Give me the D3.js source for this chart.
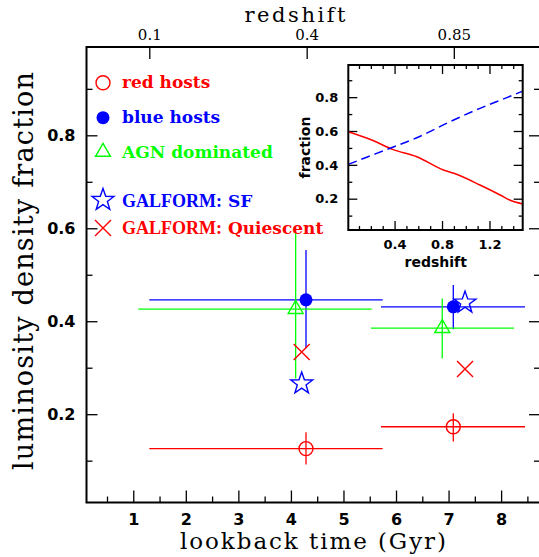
<!DOCTYPE html>
<html>
<head>
<meta charset="utf-8">
<script src="https://cdn.jsdelivr.net/npm/d3@7"></script>
<style>
  body { margin: 0; background: #fff; }
</style>
</head>
<body>
<div id="chart"></div>
<script>
// Luminosity density fraction vs lookback time, with GALFORM inset

// axis ticks
const lookbackMajor = [1, 2, 3, 4, 5, 6, 7, 8];
const lookbackMinor = [0.5, 1.5, 2.5, 3.5, 4.5, 5.5, 6.5, 7.5, 8.5];
const fractionMajor = [0.2, 0.4, 0.6, 0.8];
const fractionMinor = [0.1, 0.3, 0.5, 0.7, 0.9];
const redshiftLabels = ['0.1', '0.4', '0.85'];
const redshiftLookback = [1.305, 4.30, 7.10];

// observed bins (lookback time in Gyr, fraction)
const redHosts = [
    { t: 4.287, tLo: 1.305, tHi: 5.746, f: 0.126, fLo: 0.092, fHi: 0.161 },
    { t: 7.09, tLo: 5.714, tHi: 8.454, f: 0.173, fLo: 0.141, fHi: 0.202 }
];
const blueHosts = [
    { t: 4.287, tLo: 1.305, tHi: 5.746, f: 0.446, fLo: 0.342, fHi: 0.553 },
    { t: 7.09, tLo: 5.714, tHi: 8.454, f: 0.431, fLo: 0.383, fHi: 0.478 }
];
const agnDominated = [
    { t: 4.09, tLo: 1.096, tHi: 5.537, f: 0.426, fLo: 0.277, fHi: 0.592 },
    { t: 6.88, tLo: 5.524, tHi: 8.245, f: 0.385, fLo: 0.320, fHi: 0.449 }
];
// model predictions
const galformSF = [{ t: 4.205, f: 0.266 }, { t: 7.313, f: 0.440 }];
const galformQ = [{ t: 4.205, f: 0.334 }, { t: 7.313, f: 0.297 }];

// inset: fraction vs redshift
const insetRedZ = [0.01, 0.207, 0.389, 0.587, 0.811, 0.90, 1.12, 1.29, 1.37, 1.48];
const insetRedF = [0.596, 0.547, 0.490, 0.448, 0.370, 0.350, 0.281, 0.222, 0.192, 0.169];
const insetBlueZ = [0.01, 0.165, 0.362, 0.587, 0.868, 1.12, 1.346, 1.48];
const insetBlueF = [0.403, 0.445, 0.498, 0.560, 0.655, 0.734, 0.797, 0.836];
const insetZMajor = [0.4, 0.8, 1.2];
const insetZMinor = [0.1, 0.2, 0.3, 0.5, 0.6, 0.7, 0.9, 1.0, 1.1, 1.3, 1.4];

const RED = '#ff0000', BLUE = '#0000ff', GREEN = '#00ff00';

const svg = d3.select('#chart').append('svg')
    .attr('width', 539)
    .attr('height', 557);

const frame = { left: 86.5, right: 540, top: 47, bottom: 502.5 };

const x = d3.scaleLinear().domain([0.11, 8.74]).range([frame.left, frame.right]);
const y = d3.scaleLinear().domain([0.01, 0.99]).range([frame.bottom, frame.top]);

function cleanAxis(g) {
    g.select('.domain').remove();
    g.selectAll('.tick line').attr('stroke', '#000').attr('stroke-width', 1.3);
}

// bottom axis
svg.append('g')
    .attr('transform', `translate(0,${frame.bottom})`)
    .call(d3.axisBottom(x).tickValues(lookbackMajor).tickSizeInner(-12).tickSizeOuter(0).tickPadding(11))
    .call(cleanAxis)
    .call(g => g.selectAll('text')
        .style('font-family', 'DejaVu Sans').style('font-weight', 'bold').style('font-size', '16px'));
svg.append('g')
    .attr('transform', `translate(0,${frame.bottom})`)
    .call(d3.axisBottom(x).tickValues(lookbackMinor).tickSizeInner(-6).tickSizeOuter(0).tickFormat(''))
    .call(cleanAxis);

// left axis
svg.append('g')
    .attr('transform', `translate(${frame.left},0)`)
    .call(d3.axisLeft(y).tickValues(fractionMajor).tickSizeInner(-11).tickSizeOuter(0)
        .tickPadding(11).tickFormat(d3.format('.1f')))
    .call(cleanAxis)
    .call(g => g.selectAll('text')
        .style('font-family', 'DejaVu Sans').style('font-weight', 'bold').style('font-size', '16px'));
svg.append('g')
    .attr('transform', `translate(${frame.left},0)`)
    .call(d3.axisLeft(y).tickValues(fractionMinor).tickSizeInner(-6).tickSizeOuter(0).tickFormat(''))
    .call(cleanAxis);

// right axis
svg.append('g')
    .attr('transform', `translate(${frame.right},0)`)
    .call(d3.axisRight(y).tickValues(fractionMajor).tickSizeInner(-11).tickSizeOuter(0).tickFormat(''))
    .call(cleanAxis);
svg.append('g')
    .attr('transform', `translate(${frame.right},0)`)
    .call(d3.axisRight(y).tickValues(fractionMinor).tickSizeInner(-6).tickSizeOuter(0).tickFormat(''))
    .call(cleanAxis);

// top axis: redshift
svg.append('g')
    .attr('transform', `translate(0,${frame.top})`)
    .call(d3.axisTop(x).tickValues(redshiftLookback).tickSizeInner(-12).tickSizeOuter(0)
        .tickPadding(7).tickFormat((d, i) => redshiftLabels[i]))
    .call(cleanAxis)
    .call(g => g.selectAll('text')
        .style('font-family', 'DejaVu Serif').style('font-size', '15px'));

svg.append('rect')
    .attr('x', frame.left).attr('y', frame.top)
    .attr('width', frame.right - frame.left).attr('height', frame.bottom - frame.top)
    .attr('fill', 'none').attr('stroke', '#000').attr('stroke-width', 2);

// axis titles
svg.append('text')
    .attr('x', 313).attr('y', 549)
    .attr('text-anchor', 'middle')
    .attr('textLength', 266)
    .style('font-family', 'DejaVu Serif').style('font-size', '23px')
    .text('lookback time (Gyr)');

svg.append('text')
    .attr('transform', 'translate(33,271) rotate(-90)')
    .attr('text-anchor', 'middle')
    .attr('textLength', 398)
    .style('font-family', 'DejaVu Serif').style('font-size', '27px')
    .text('luminosity density fraction');

svg.append('text')
    .attr('x', 295).attr('y', 22)
    .attr('text-anchor', 'middle')
    .attr('textLength', 101)
    .style('font-family', 'DejaVu Serif').style('font-size', '21px')
    .text('redshift');

// error bars
function drawErrors(data, color) {
    const g = svg.append('g').attr('stroke', color).attr('stroke-width', 1.3);
    g.selectAll('.h').data(data).enter().append('line')
        .attr('x1', d => x(d.tLo)).attr('x2', d => x(d.tHi))
        .attr('y1', d => y(d.f)).attr('y2', d => y(d.f));
    g.selectAll('.v').data(data).enter().append('line')
        .attr('x1', d => x(d.t)).attr('x2', d => x(d.t))
        .attr('y1', d => y(d.fLo)).attr('y2', d => y(d.fHi));
}
drawErrors(blueHosts, BLUE);
drawErrors(agnDominated, GREEN);
drawErrors(redHosts, RED);

// marker shapes
function starPath(r) {
    const pts = [];
    for (let i = 0; i < 10; i++) {
        const rr = i % 2 === 0 ? r : r * 0.4;
        const a = -Math.PI / 2 + i * Math.PI / 5;
        pts.push([rr * Math.cos(a), rr * Math.sin(a)]);
    }
    return 'M' + pts.map(p => p.join(',')).join('L') + 'Z';
}
const markers = {
    openCircle: g => g.append('circle').attr('r', 7).attr('fill', 'none').attr('stroke', RED).attr('stroke-width', 1.4),
    filledCircle: g => g.append('circle').attr('r', 6.5).attr('fill', BLUE),
    triangle: g => g.append('path').attr('d', d3.symbol(d3.symbolTriangle, 97)()).attr('fill', 'none')
        .attr('stroke', GREEN).attr('stroke-width', 1.4),
    star: g => g.append('path').attr('d', starPath(11.5)).attr('fill', 'none')
        .attr('stroke', BLUE).attr('stroke-width', 1.4),
    cross: g => g.append('path').attr('d', 'M-8,-8L8,8M-8,8L8,-8').attr('fill', 'none')
        .attr('stroke', RED).attr('stroke-width', 1.4)
};

function drawPoints(data, marker) {
    svg.append('g').selectAll('g').data(data).enter().append('g')
        .attr('transform', d => `translate(${x(d.t)},${y(d.f)})`)
        .each(function() { marker(d3.select(this)); });
}
drawPoints(agnDominated, markers.triangle);
drawPoints(blueHosts, markers.filledCircle);
drawPoints(redHosts, markers.openCircle);
drawPoints(galformSF, markers.star);
drawPoints(galformQ, markers.cross);

// legend
const legendItems = [
    { label: 'red hosts', color: RED, marker: markers.openCircle, cy: 82.7, base: 88 },
    { label: 'blue hosts', color: BLUE, marker: markers.filledCircle, cy: 117.7, base: 123 },
    { label: 'AGN dominated', color: GREEN, marker: markers.triangle, cy: 152, base: 158.3 },
    { prefix: 'GALFORM:', label: ' SF', color: BLUE, marker: markers.star, cy: 200, base: 206.7 },
    { prefix: 'GALFORM:', label: ' Quiescent', color: RED, marker: markers.cross, cy: 228, base: 233.5 }
];
legendItems.forEach(item => {
    const g = svg.append('g').attr('transform', `translate(103,${item.cy})`);
    item.marker(g);
    const t = svg.append('text')
        .attr('x', 122).attr('y', item.base)
        .attr('fill', item.color)
        .style('font-family', 'DejaVu Serif').style('font-weight', 'bold').style('font-size', '17px');
    if (item.prefix) {
        t.append('tspan').style('font-family', 'Liberation Serif').style('font-size', '18px').text(item.prefix);
    }
    t.append('tspan').attr('xml:space', 'preserve').text(item.label);
});

// inset
const inset = { left: 348.3, right: 522.7, top: 65, bottom: 230 };
const xi = d3.scaleLinear().domain([0.01, 1.48]).range([inset.left, inset.right]);
const yi = d3.scaleLinear().domain([0.015, 0.99]).range([inset.bottom, inset.top]);

svg.append('rect')
    .attr('x', inset.left).attr('y', inset.top)
    .attr('width', inset.right - inset.left).attr('height', inset.bottom - inset.top)
    .attr('fill', '#fff');

const insetFont = g => g.selectAll('text')
    .style('font-family', 'DejaVu Sans').style('font-weight', 'bold').style('font-size', '13px');

svg.append('g').attr('transform', `translate(0,${inset.bottom})`)
    .call(d3.axisBottom(xi).tickValues(insetZMajor).tickSizeInner(-9).tickSizeOuter(0)
        .tickPadding(10).tickFormat(d3.format('.1f')))
    .call(cleanAxis).call(insetFont);
svg.append('g').attr('transform', `translate(0,${inset.bottom})`)
    .call(d3.axisBottom(xi).tickValues(insetZMinor).tickSizeInner(-4).tickSizeOuter(0).tickFormat(''))
    .call(cleanAxis);
svg.append('g').attr('transform', `translate(0,${inset.top})`)
    .call(d3.axisTop(xi).tickValues(insetZMajor).tickSizeInner(-9).tickSizeOuter(0).tickFormat(''))
    .call(cleanAxis);
svg.append('g').attr('transform', `translate(0,${inset.top})`)
    .call(d3.axisTop(xi).tickValues(insetZMinor).tickSizeInner(-4).tickSizeOuter(0).tickFormat(''))
    .call(cleanAxis);
svg.append('g').attr('transform', `translate(${inset.left},0)`)
    .call(d3.axisLeft(yi).tickValues(fractionMajor).tickSizeInner(-9).tickSizeOuter(0)
        .tickPadding(10).tickFormat(d3.format('.1f')))
    .call(cleanAxis).call(insetFont);
svg.append('g').attr('transform', `translate(${inset.left},0)`)
    .call(d3.axisLeft(yi).tickValues(fractionMinor).tickSizeInner(-4).tickSizeOuter(0).tickFormat(''))
    .call(cleanAxis);
svg.append('g').attr('transform', `translate(${inset.right},0)`)
    .call(d3.axisRight(yi).tickValues(fractionMajor).tickSizeInner(-9).tickSizeOuter(0).tickFormat(''))
    .call(cleanAxis);
svg.append('g').attr('transform', `translate(${inset.right},0)`)
    .call(d3.axisRight(yi).tickValues(fractionMinor).tickSizeInner(-4).tickSizeOuter(0).tickFormat(''))
    .call(cleanAxis);

const line = d3.line().x(d => xi(d[0])).y(d => yi(d[1])).curve(d3.curveMonotoneX);
svg.append('path')
    .attr('d', line(d3.zip(insetRedZ, insetRedF)))
    .attr('fill', 'none').attr('stroke', RED).attr('stroke-width', 1.5);
svg.append('path')
    .attr('d', line(d3.zip(insetBlueZ, insetBlueF)))
    .attr('fill', 'none').attr('stroke', BLUE).attr('stroke-width', 1.5)
    .attr('stroke-dasharray', '9,5');

svg.append('rect')
    .attr('x', inset.left).attr('y', inset.top)
    .attr('width', inset.right - inset.left).attr('height', inset.bottom - inset.top)
    .attr('fill', 'none').attr('stroke', '#000').attr('stroke-width', 2);

svg.append('text')
    .attr('x', 435.7).attr('y', 267.3)
    .attr('text-anchor', 'middle')
    .style('font-family', 'DejaVu Sans').style('font-weight', 'bold').style('font-size', '14px')
    .text('redshift');
svg.append('text')
    .attr('transform', 'translate(310,147.5) rotate(-90)')
    .attr('text-anchor', 'middle')
    .style('font-family', 'DejaVu Sans').style('font-weight', 'bold').style('font-size', '14px')
    .text('fraction');
</script>
</body>
</html>
